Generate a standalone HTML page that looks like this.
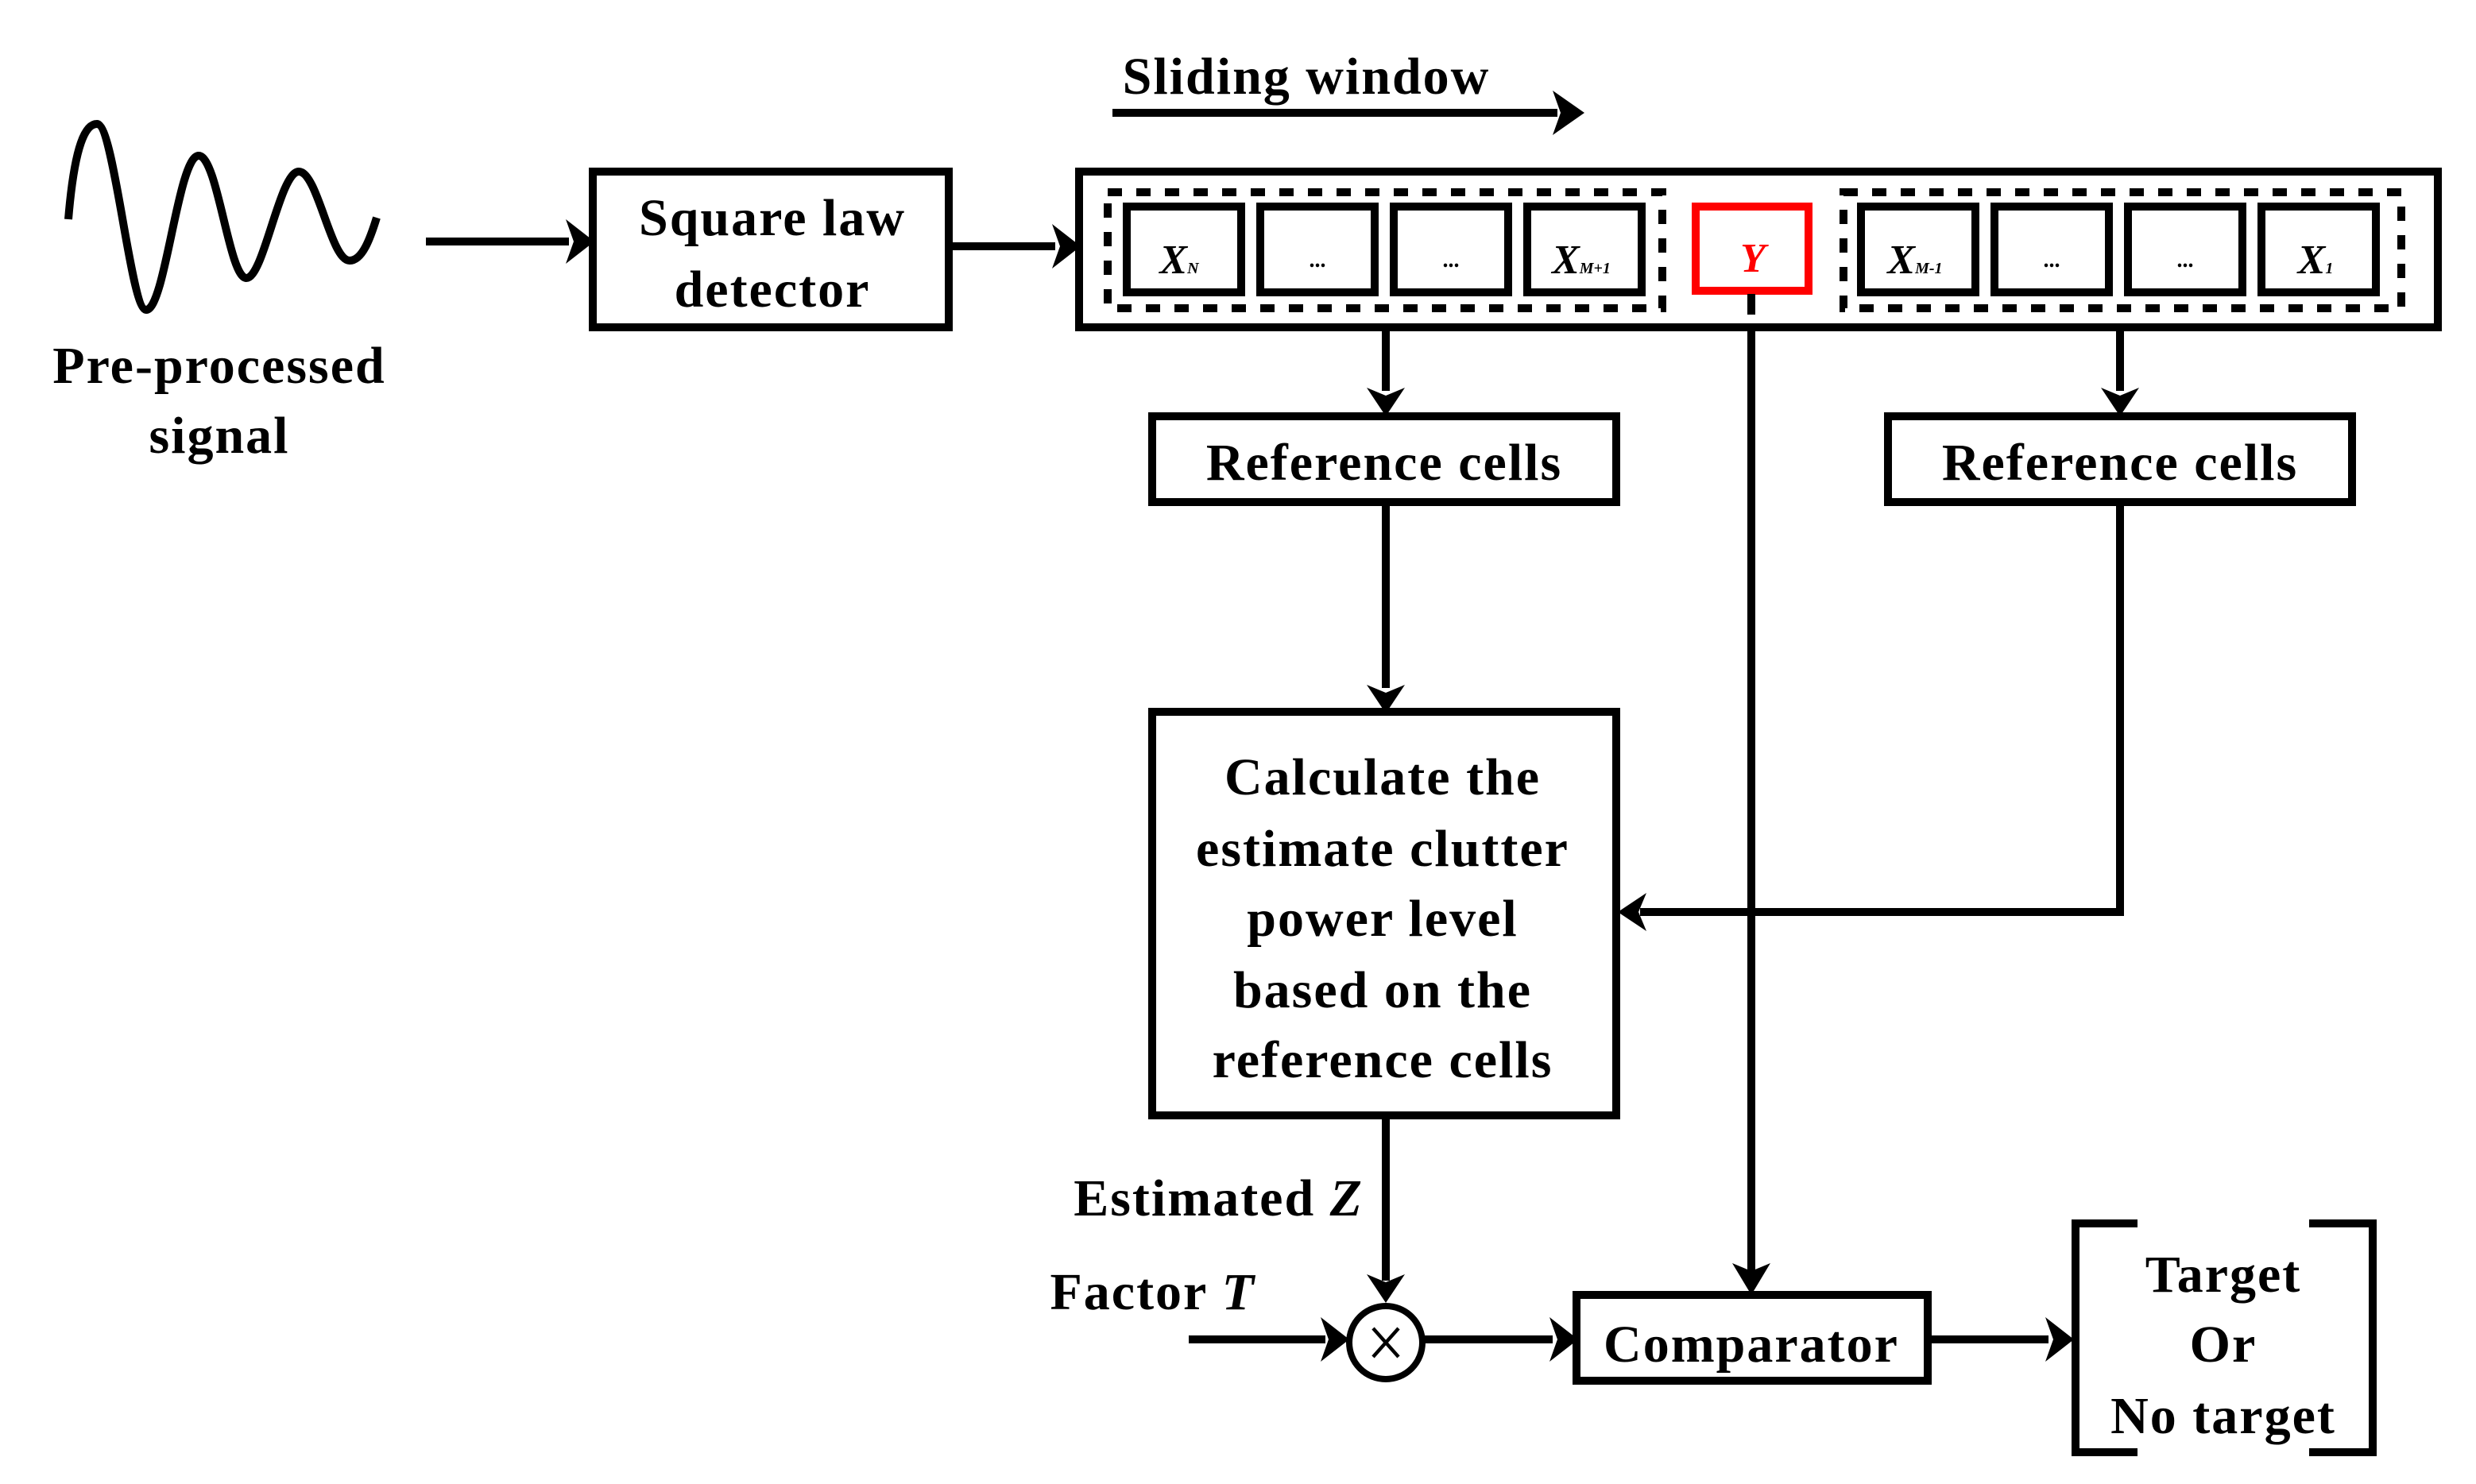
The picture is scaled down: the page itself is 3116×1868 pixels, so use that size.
<!DOCTYPE html>
<html><head><meta charset="utf-8"><style>html,body{margin:0;padding:0;background:#fff;}svg{display:block}</style></head>
<body>
<svg width="3116" height="1868" viewBox="0 0 1558 934" xmlns="http://www.w3.org/2000/svg" font-family="'Liberation Serif', serif" font-weight="bold">
<g stroke="#000" stroke-width="5" fill="none" stroke-linejoin="round">
<path d="M43,138 C47,90 54,78 61,78 C72,78 82,195 92,195 C104,195 112,98 125,98 C137,98 144,175 155,175 C166,175 176,108 188,108 C200,108 208,164 220,164 C228,164 233,150 237,137"/>
</g>
<g stroke="#000" stroke-width="5" fill="none">
<path d="M268,152 H358"/><path d="M598,155 H664"/><path d="M700,71 H980"/>
<path d="M872,197 V246"/><path d="M1334,197 V246"/>
<path d="M872,317 V433"/>
<path d="M1334,317 V574 H1032"/>
<path d="M1102,185 V800"/>
<path d="M872,703 V806"/>
<path d="M748,843 H834"/><path d="M896,843 H977"/><path d="M1214,843 H1289"/>
</g>
<g fill="#000">
<path d="M356,138 L374,152 L356,166 L361,152z"/>
<path d="M662,141 L680,155 L662,169 L667,155z"/>
<path d="M977,57 L997,71 L977,85 L982,71z"/>
<path d="M860,244 L872,262 L884,244 L872,249z"/>
<path d="M1322,244 L1334,262 L1346,244 L1334,249z"/>
<path d="M860,431 L872,449 L884,431 L872,436z"/>
<path d="M1036,562 L1018,574 L1036,586 L1031,574z"/>
<path d="M1090,795 L1102,815 L1114,795 L1102,800z"/>
<path d="M860,802 L872,820 L884,802 L872,807z"/>
<path d="M831,829 L849,843 L831,857 L836,843z"/>
<path d="M975,829 L993,843 L975,857 L980,843z"/>
<path d="M1287,829 L1305,843 L1287,857 L1292,843z"/>
</g>
<g stroke="#000" stroke-width="5" fill="#fff">
<rect x="373" y="108" width="224" height="98"/>
<rect x="679" y="108" width="855" height="98"/>
<rect x="725" y="262" width="292" height="54"/>
<rect x="1188" y="262" width="292" height="54"/>
<rect x="725" y="448" width="292" height="254"/>
<rect x="992" y="815" width="221" height="54"/>
<circle cx="872" cy="845" r="23" stroke-width="4"/>
</g>
<g stroke="#000" stroke-width="5" fill="none" stroke-dasharray="9,9">
<path d="M697,121 H1046 V194 H697 Z"/>
<path d="M1160,121 H1511 V194 H1160 Z"/>
</g>
<g stroke="#000" stroke-width="5" fill="#fff">
<rect x="709" y="130" width="72" height="54"/>
<rect x="793" y="130" width="72" height="54"/>
<rect x="877" y="130" width="72" height="54"/>
<rect x="961" y="130" width="72" height="54"/>
<rect x="1171" y="130" width="72" height="54"/>
<rect x="1255" y="130" width="72" height="54"/>
<rect x="1339" y="130" width="72" height="54"/>
<rect x="1423" y="130" width="72" height="54"/>
</g>
<rect x="1067" y="130" width="71" height="53" stroke="#f00" stroke-width="5" fill="#fff"/>
<path d="M1102,185 V198" stroke="#000" stroke-width="5"/>
<g stroke="#000" stroke-width="5" fill="none">
<path d="M1345,770 H1306 V914 H1345"/>
<path d="M1453,770 H1493 V914 H1453"/>
</g>
<path d="M864,836 L880,854 M880,836 L864,854" stroke="#000" stroke-width="2.2"/>
<g font-size="33" letter-spacing="1" text-anchor="middle" fill="#000">
<text x="822" y="59">Sliding window</text>
<text x="138" y="241">Pre-processed</text>
<text x="138" y="285">signal</text>
<text x="486" y="148">Square law</text>
<text x="486" y="193">detector</text>
<text x="871" y="302">Reference cells</text>
<text x="1334" y="302">Reference cells</text>
<text x="870" y="500">Calculate the</text>
<text x="870" y="545">estimate clutter</text>
<text x="870" y="589">power level</text>
<text x="870" y="634">based on the</text>
<text x="870" y="678">reference cells</text>
<text x="1102" y="857">Comparator</text>
<text x="1399" y="813">Target</text>
<text x="1399" y="857">Or</text>
<text x="1399" y="902">No target</text>
<text x="858" y="765" text-anchor="end">Estimated <tspan font-style="italic">Z</tspan></text>
<text x="790" y="824" text-anchor="end">Factor <tspan font-style="italic">T</tspan></text>
</g>
<g font-size="26" font-style="italic" text-anchor="middle" fill="#000">
<text x="742" y="172">X<tspan font-size="10">N</tspan></text>
<text x="995" y="172">X<tspan font-size="10">M+1</tspan></text>
<text x="1103" y="171" fill="#f00">Y</text>
<text x="1205" y="172">X<tspan font-size="10">M-1</tspan></text>
<text x="1457" y="172">X<tspan font-size="10">1</tspan></text>
</g>
<g font-size="14" text-anchor="middle" fill="#000">
<text x="829" y="168">...</text><text x="913" y="168">...</text>
<text x="1291" y="168">...</text><text x="1375" y="168">...</text>
</g>
</svg>
</body></html>
